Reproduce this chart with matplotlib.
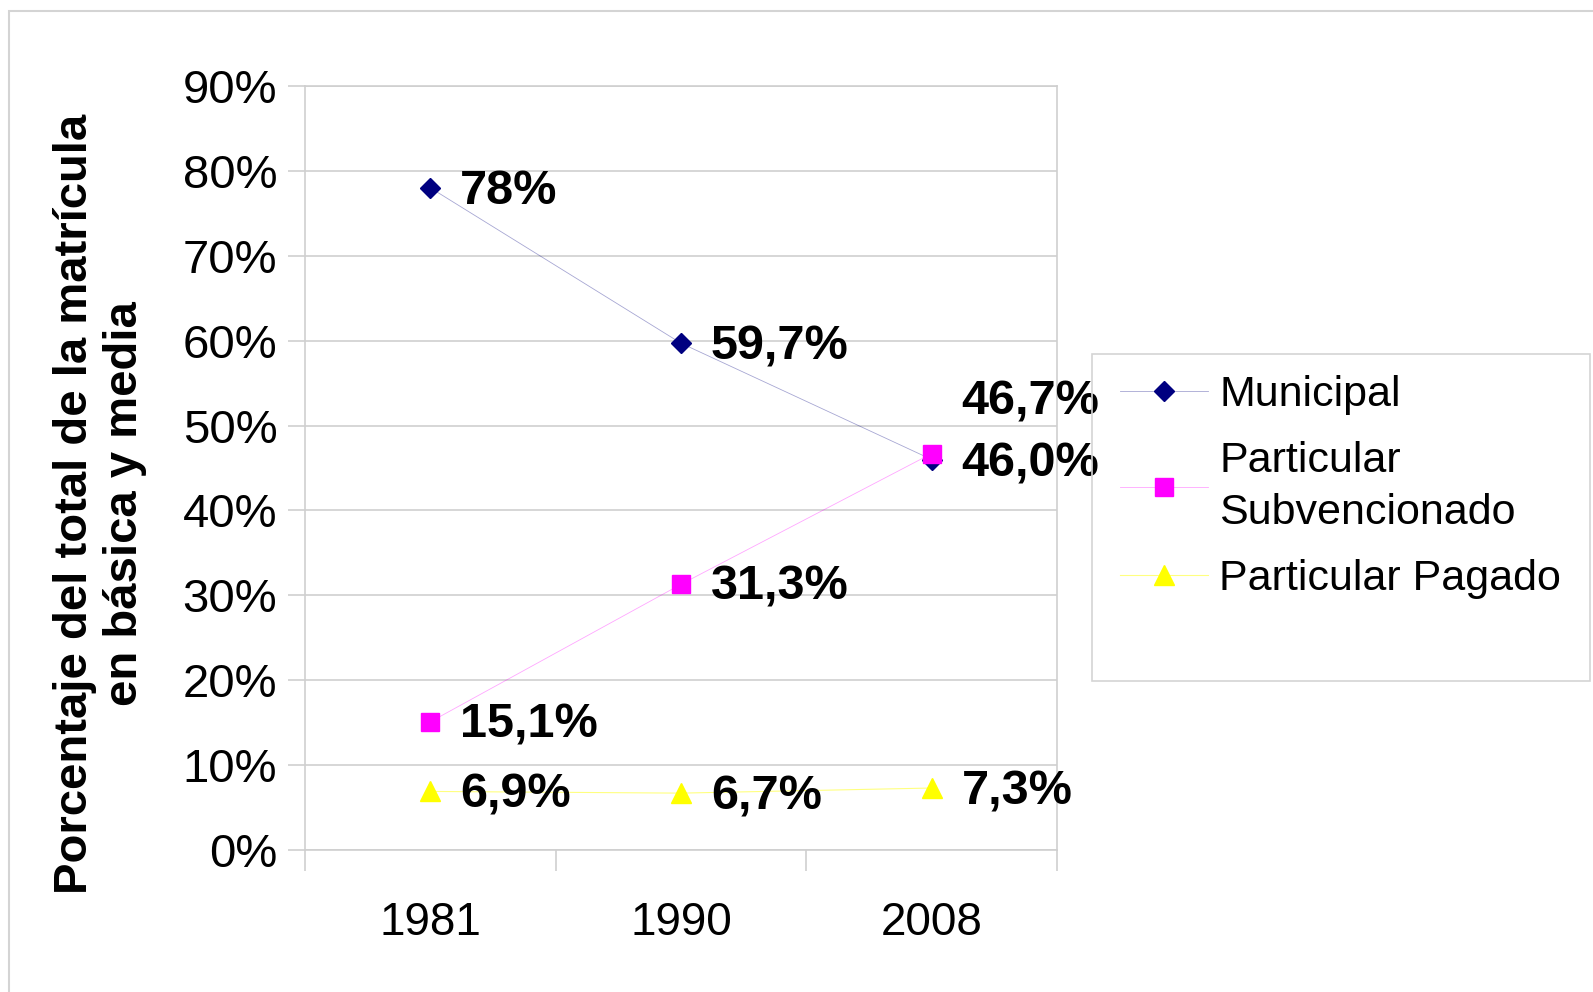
import matplotlib.pyplot as plt
from matplotlib.patches import Rectangle

# data
years = ['1981', '1990', '2008']
municipal = [78.0, 59.7, 46.0]
subvencionado = [15.1, 31.3, 46.7]
pagado = [6.9, 6.7, 7.3]

municipal_labels = ['78%', '59,7%', '46,0%']
subvencionado_labels = ['15,1%', '31,3%', '46,7%']
pagado_labels = ['6,9%', '6,7%', '7,3%']

series_names = ['Municipal', 'Particular\nSubvencionado', 'Particular Pagado']

plt.rcParams['font.family'] = ['Liberation Sans', 'DejaVu Sans']

W, H = 1593, 992
fig = plt.figure(figsize=(W / 100, H / 100), dpi=100)
fig.patch.set_facecolor('white')

frame_c = '#d4d4d4'
grid_c = '#cfcfcf'

# outer chart frame (only left and top visible)
fig.patches.append(Rectangle((9 / W, -0.05), 1.1, 1 - 11 / H + 0.05,
                             transform=fig.transFigure, fill=False,
                             edgecolor=frame_c, linewidth=1.5))

# plot area in pixels: left 305, right 1057, top 86, bottom 850
ax = fig.add_axes([305 / W, 1 - 850 / H, (1057 - 305) / W, (850 - 86) / H])
x = list(range(len(years)))

navy = '#000080'
pink = '#ff00ff'
yellow = '#ffff00'
styles = [
    dict(color=(0, 0, 0.5, 0.35), lw=0.6, marker='D', ms=10, mfc=navy, mec=navy),
    dict(color=(1, 0, 1, 0.35), lw=0.6, marker='s', ms=13, mfc=pink, mec=pink),
    dict(color=(1, 1, 0, 0.5), lw=0.8, marker='^', ms=15, mfc=yellow, mec=yellow),
]
handles = []
for vals, st, z in zip([municipal, subvencionado, pagado], styles, [3, 4, 3]):
    h, = ax.plot(x, vals, zorder=z, **st)
    handles.append(h)

ax.set_xlim(-0.5, 2.5)
ax.set_ylim(0, 90)
ax.set_yticks(range(0, 91, 10))
ax.set_yticklabels([f'{v}%' for v in range(0, 91, 10)], fontsize=34)
ax.yaxis.grid(True, color=grid_c, lw=1.2)
ax.set_axisbelow(True)
ax.tick_params(axis='y', length=12, width=1.2, color=grid_c, pad=8)

ax.set_xticks(x)
ax.set_xticklabels(years, fontsize=33)
ax.tick_params(axis='x', length=0, pad=37)
ax.set_xticks([-0.5, 0.5, 1.5, 2.5], minor=True)
ax.tick_params(axis='x', which='minor', length=15, width=1.2, color=grid_c, direction='out')

for s in ax.spines.values():
    s.set_color(grid_c)
    s.set_linewidth(1.2)

# y axis title
fig.text(100 / W, 1 - 504 / H, 'Porcentaje del total de la matrícula\nen básica y media',
         rotation=90, ha='center', va='center', multialignment='center',
         fontsize=34, fontweight='bold', linespacing=1.2)

lab = dict(textcoords='offset pixels', fontsize=35, fontweight='bold',
           va='center', ha='left', annotation_clip=False)
for i in x:
    ax.annotate(municipal_labels[i], (i, municipal[i]), xytext=(30, -4), **lab)
    dy = 52 if i == 2 else -3
    ax.annotate(subvencionado_labels[i], (i, subvencionado[i]), xytext=(30, dy), **lab)
    ax.annotate(pagado_labels[i], (i, pagado[i]), xytext=(30, -4), **lab)

# legend: frame drawn by hand, entries without frame
fig.patches.append(Rectangle((1092 / W, 1 - 681 / H), (1590 - 1092) / W, (681 - 354) / H,
                             transform=fig.transFigure, fill=False,
                             edgecolor=frame_c, linewidth=1.2))
leg = fig.legend(handles, series_names, loc='upper left',
                 bbox_to_anchor=(1120 / W, 1 - 375 / H), bbox_transform=fig.transFigure,
                 fontsize=31, frameon=False, handlelength=2.05, handletextpad=0.25,
                 borderpad=0, borderaxespad=0, labelspacing=0.6)
for t in leg.get_texts():
    t.set_linespacing(1.4)

fig.savefig('out.png', dpi=100)
